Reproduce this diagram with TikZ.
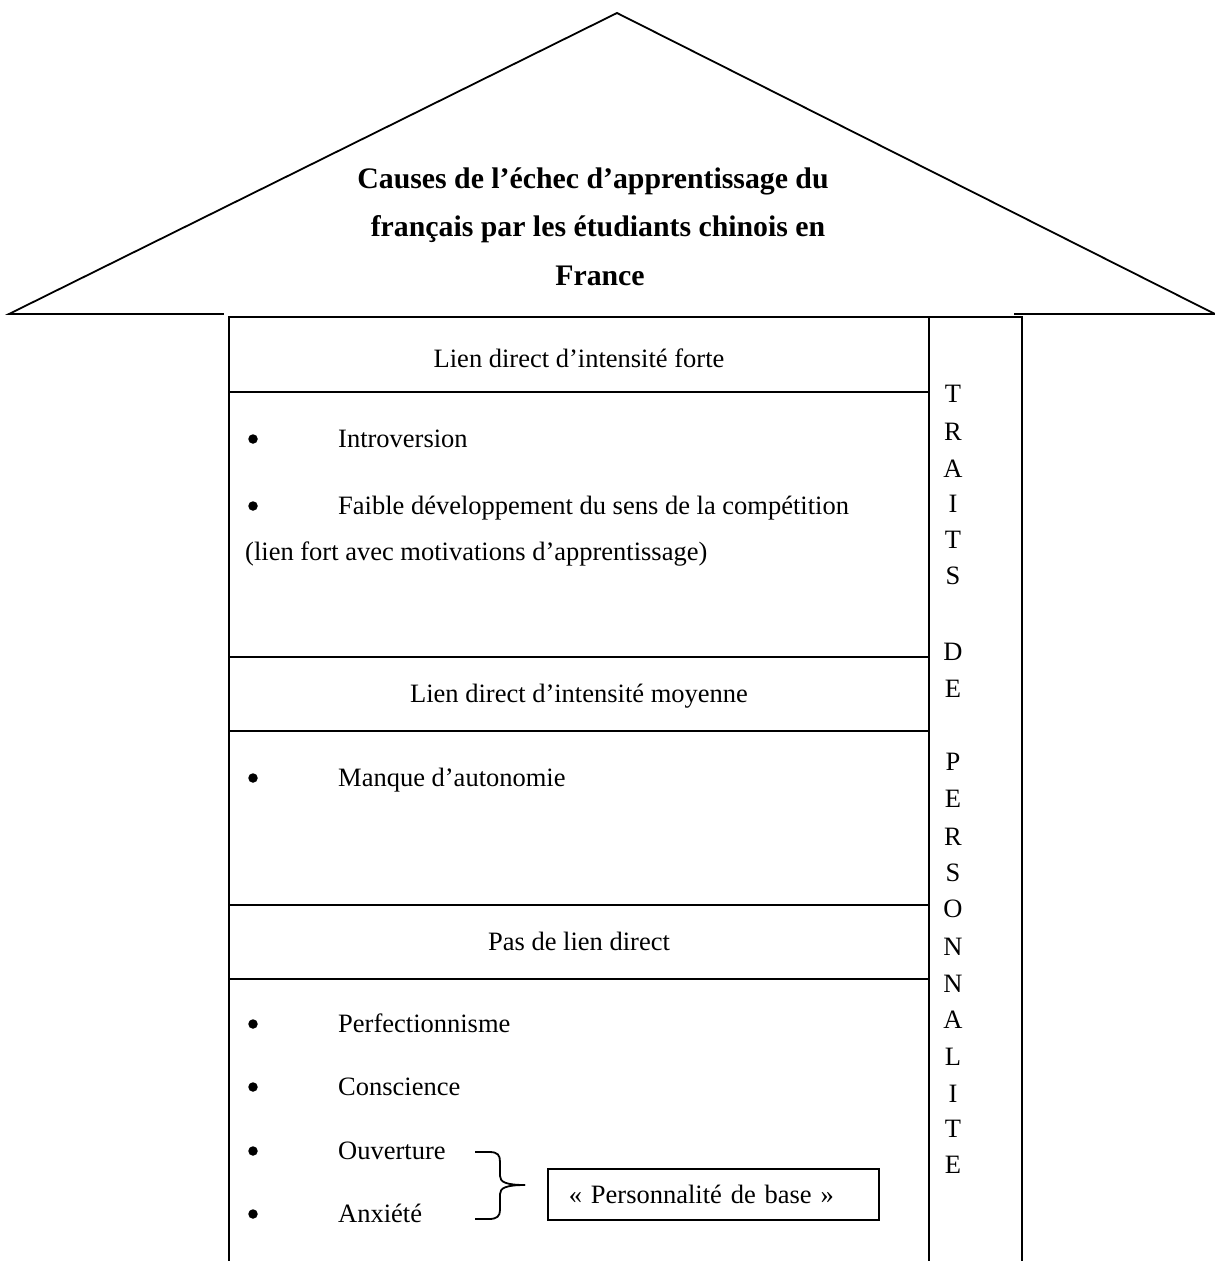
\documentclass[tikz,border=0pt]{standalone}
\usepackage{fontspec}
\setmainfont{Liberation Serif}
\begin{document}
\begin{tikzpicture}[x=1pt,y=-1pt,
  ln/.style={line width=1.8pt, line cap=rect},
  body/.style={font=\fontsize{26.5}{38.6}\selectfont, inner sep=0pt},
  ttl/.style={font=\fontsize{29.8}{48}\selectfont\bfseries, inner sep=0pt, anchor=base},
  item/.style={body, anchor=base west},
  head/.style={body, anchor=base},
  bul/.style={circle, fill=black, inner sep=0pt, minimum size=9.5pt},
  col/.style={body, anchor=base}]
\useasboundingbox (0,0) rectangle (1215,1261);
% roof
\coordinate (apex) at (617,13);
\coordinate (lt) at (9,314);
\coordinate (rt) at (1215,314);
\coordinate (le) at (223,314);
\coordinate (re) at (1015,314);
\draw[ln, line join=miter] (le) -- (lt) -- (apex) -- (rt) -- (re);
% title
\node[ttl] (t1) at (593,188) {Causes de l’échec d’apprentissage du};
\node[ttl] (t2) at (598,236) {français par les étudiants chinois en};
\node[ttl] (t3) at (600,285) {France};
% table frame
\draw[ln] (229,1262) -- (229,317) -- (1022,317) -- (1022,1262);
\draw[ln] (929,317) -- (929,1262);
\foreach \yy in {392,657,731,905,979}{\draw[ln] (229,\yy) -- (929,\yy);}
% headers
\node[head] (h1) at (579,367) {Lien direct d’intensité forte};
\node[head] (h2) at (579,702) {Lien direct d’intensité moyenne};
\node[head] (h3) at (579,950) {Pas de lien direct};
% bullets
\foreach \yy/\nm in {447/b1,514/b2,786/b3,1032/b4,1095/b5,1159/b6,1222/b7}{\node[bul] (\nm) at (253,\yy-8) {};}
\node[item] (i1) at (338,447) {Introversion};
\node[item] (i2) at (338,514) {Faible développement du sens de la compétition};
\node[item] (i2b) at (245,560) {(lien fort avec motivations d’apprentissage)};
\node[item] (i3) at (338,786) {Manque d’autonomie};
\node[item] (i4) at (338,1032) {Perfectionnisme};
\node[item] (i5) at (338,1095) {Conscience};
\node[item] (i6) at (338,1159) {Ouverture};
\node[item] (i7) at (338,1222) {Anxiété};
% box
\node[body, draw, line width=1.8pt, anchor=west, minimum height=51pt, inner xsep=21pt, text width=289pt, align=left] (base) at (547,1194.5) {« Personnalité de base »};
% brace
\coordinate (tip) at (525,1185);
\draw[line width=1.8pt] (475,1152) -- (489,1152) .. controls (498,1152) and (500,1155) .. (500,1162) -- (500,1176) .. controls (500,1182) and (506,1185) .. (tip);
\draw[line width=1.8pt] (tip) .. controls (506,1185) and (500,1188) .. (500,1194) -- (500,1210) .. controls (500,1216) and (497,1219) .. (489,1219) -- (475,1219);
% vertical column text
\foreach \ch/\yy [count=\k] in {T/402,R/440,A/477,I/512,T/548,S/584,D/660,E/697,P/770,E/807,R/845,S/881,O/917,N/955,N/992,A/1028,L/1065,I/1102,T/1137,E/1173}{
  \node[col] (c\k) at (953,\yy) {\ch};}
\end{tikzpicture}
\end{document}
